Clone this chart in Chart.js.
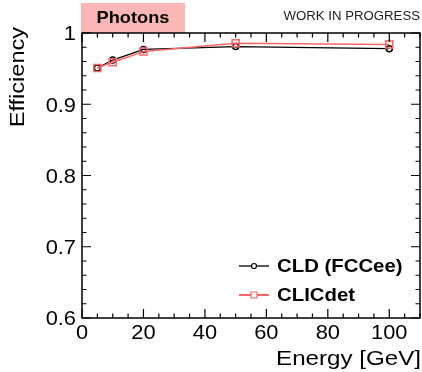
<!DOCTYPE html>
<html lang="en">
<head>
  <meta charset="UTF-8">
  <title>Photon efficiency</title>
  <script src="https://cdn.jsdelivr.net/npm/chart.js"></script>
  <style>
    body { margin:0; background:#fff; }
    canvas { display:block; }
  </style>
</head>
<body>
  <canvas id="effChart" width="422" height="372"></canvas>
  <script>
    // values
    const energies = [5, 10, 20, 50, 100];
    const cldEff = [0.951, 0.962, 0.977, 0.981, 0.978];
    const clicEff = [0.951, 0.959, 0.974, 0.9855, 0.984];
    const seriesNames = ['CLD (FCCee)', 'CLICdet'];
    const xTickValues = [0, 20, 40, 60, 80, 100];
    const yTickValues = [0.6, 0.7, 0.8, 0.9, 1];
    const yTickLabels = ['0.6', '0.7', '0.8', '0.9', '1'];

    const FONT = "'Liberation Sans', Arial, sans-serif";
    const RED = '#ff6666';

    function stretchText(ctx, txt, x, y, font, align, sx){
      ctx.save();
      ctx.font = font;
      ctx.textAlign = align;
      ctx.textBaseline = 'middle';
      ctx.translate(x, y);
      ctx.scale(sx, 1);
      ctx.fillText(txt, 0, 0);
      ctx.restore();
    }

    // ROOT-like frame: inward ticks on all sides, labels, header, legend
    const rootFrame = {
      id: 'rootFrame',
      beforeDraw(chart){
        const ctx = chart.ctx;
        const a = chart.chartArea;
        ctx.save();
        ctx.fillStyle = '#fbb6b6';
        ctx.fillRect(81, 3, 104, a.top - 3);
        ctx.fillStyle = '#000';
        stretchText(ctx, 'Photons', 133, 18.5, 'bold 17px ' + FONT, 'center', 1.07);
        ctx.fillStyle = '#222';
        stretchText(ctx, 'WORK IN PROGRESS', 420, 17, '12px ' + FONT, 'right', 1.1);
        ctx.restore();
      },
      afterDraw(chart){
        const ctx = chart.ctx;
        const a = chart.chartArea;
        const xs = chart.scales.x, ys = chart.scales.y;
        ctx.save();
        ctx.strokeStyle = '#000';
        ctx.lineWidth = 1.5;
        ctx.strokeRect(a.left, a.top, a.right - a.left, a.bottom - a.top);
        ctx.lineWidth = 1.2;
        ctx.beginPath();
        for (let v = 0; v <= xs.max + 1e-9; v += 5){
          const px = xs.getPixelForValue(v);
          const len = v % 20 === 0 ? 9 : 4.5;
          ctx.moveTo(px, a.bottom); ctx.lineTo(px, a.bottom - len);
          ctx.moveTo(px, a.top); ctx.lineTo(px, a.top + len);
        }
        for (let i = 0; i <= 20; i++){
          const v = 0.6 + i * 0.02;
          const py = ys.getPixelForValue(v);
          const len = i % 5 === 0 ? 9 : 4.5;
          ctx.moveTo(a.left, py); ctx.lineTo(a.left + len, py);
          ctx.moveTo(a.right, py); ctx.lineTo(a.right - len, py);
        }
        ctx.stroke();

        ctx.fillStyle = '#000';
        const tickFont = '19.5px ' + FONT;
        xTickValues.forEach(v => {
          stretchText(ctx, String(v), xs.getPixelForValue(v), 334, tickFont, 'center', 1.12);
        });
        yTickValues.forEach((v, i) => {
          stretchText(ctx, yTickLabels[i], 76, ys.getPixelForValue(v) + 2, tickFont, 'right', 1.12);
        });

        // axis titles
        stretchText(ctx, 'Energy [GeV]', 421, 359, '21px ' + FONT, 'right', 1.15);
        ctx.save();
        ctx.translate(18, 27);
        ctx.rotate(-Math.PI / 2);
        stretchText(ctx, 'Efficiency', 0, 0, '21px ' + FONT, 'right', 1.12);
        ctx.restore();

        // legend
        const items = [
          { label: seriesNames[0], color: '#000', style: 'circle', y: 266 },
          { label: seriesNames[1], color: RED, style: 'rect', y: 295 }
        ];
        items.forEach(it => {
          ctx.strokeStyle = it.color;
          ctx.lineWidth = it.style === 'rect' ? 2 : 1.3;
          ctx.beginPath(); ctx.moveTo(239, it.y); ctx.lineTo(269, it.y); ctx.stroke();
          ctx.lineWidth = 1.2;
          ctx.fillStyle = '#fff';
          ctx.beginPath();
          if (it.style === 'circle') ctx.arc(254, it.y, 2.5, 0, Math.PI * 2);
          else ctx.rect(251, it.y - 3, 6, 6);
          ctx.fill(); ctx.stroke();
          ctx.fillStyle = '#000';
          stretchText(ctx, it.label, 277, it.y + 1, 'bold 18.5px ' + FONT, 'left', 1.1);
        });
        ctx.restore();
      }
    };

    new Chart(document.getElementById('effChart').getContext('2d'), {
      type: 'line',
      data: {
        datasets: [
          {
            label: seriesNames[1],
            data: energies.map((e, i) => ({ x: e, y: clicEff[i] })),
            borderColor: RED,
            borderWidth: 1.5,
            pointStyle: 'rect',
            pointRadius: 5,
            pointBorderWidth: 1.5,
            pointBorderColor: RED,
            pointBackgroundColor: 'rgba(0,0,0,0)',
            tension: 0
          },
          {
            label: seriesNames[0],
            data: energies.map((e, i) => ({ x: e, y: cldEff[i] })),
            borderColor: '#000',
            borderWidth: 1.2,
            pointStyle: 'circle',
            pointRadius: 3,
            pointBorderWidth: 1.5,
            pointBorderColor: '#000',
            pointBackgroundColor: 'rgba(0,0,0,0)',
            tension: 0
          }
        ]
      },
      options: {
        responsive: false,
        animation: false,
        devicePixelRatio: 1,
        layout: { autoPadding: false, padding: { left: 82, top: 33, right: 2, bottom: 54 } },
        plugins: { legend: { display: false }, tooltip: { enabled: false } },
        scales: {
          x: { type: 'linear', min: 0, max: 110, display: false },
          y: { type: 'linear', min: 0.6, max: 1, display: false }
        }
      },
      plugins: [rootFrame]
    });
  </script>
</body>
</html>
